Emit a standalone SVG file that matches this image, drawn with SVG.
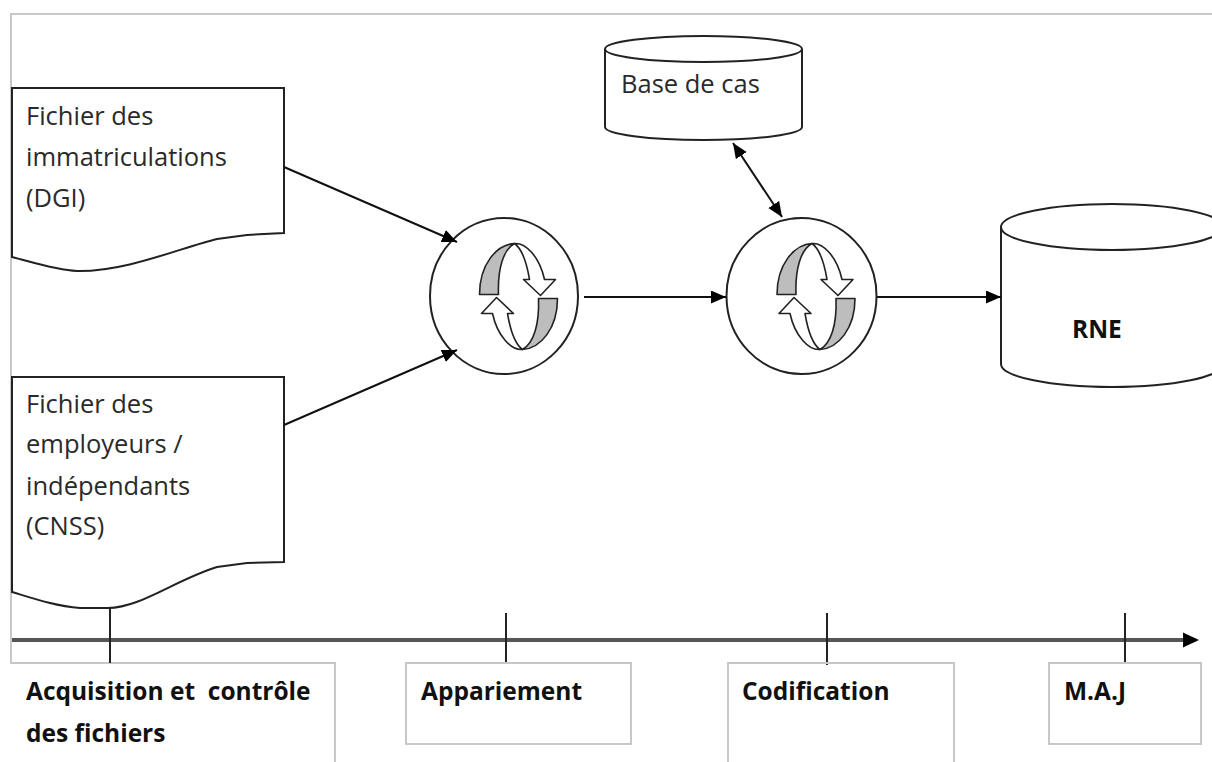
<svg xmlns="http://www.w3.org/2000/svg" xmlns:xlink="http://www.w3.org/1999/xlink" width="1212" height="762" viewBox="0 0 1212 762">
<style>
.frame{fill:none;stroke:#c8c8c8;stroke-width:2}
.shape{fill:#fff;stroke:#222;stroke-width:2}
.conn{fill:none;stroke:#111;stroke-width:2}
.tick{stroke:#222;stroke-width:2}
.txt{font-family:"Open Sans","Noto Sans",sans-serif;font-size:25.5px;fill:#2a2a2a}
.btxt{font-family:"Open Sans","Noto Sans",sans-serif;font-size:24.5px;font-weight:bold;fill:#111}
.ico{stroke:#222;stroke-width:1.6;stroke-linejoin:round}
</style>
<defs>
<marker id="arr" markerUnits="userSpaceOnUse" markerWidth="16" markerHeight="14" refX="15" refY="6.5" orient="auto-start-reverse" viewBox="0 0 16 14">
<path d="M0,0 L15,6.5 L0,13 Z" fill="#000"/>
</marker>
<g id="cyc">
<g>
<path class="ico" fill="#bdbdbd" d="M-4,-53 C-22,-52 -39,-32 -39,-2 L-20,-2 C-21,-28 -15,-47 -4,-53 Z"/>
<path class="ico" fill="#fff" d="M-4,-53 C7,-54 21,-40 26,-17 L37,-17 L22,-1 L5,-17 L11,-17 C8,-35 3,-48 -4,-53 Z"/>
</g>
<g transform="rotate(180)">
<path class="ico" fill="#bdbdbd" d="M-4,-53 C-22,-52 -39,-32 -39,-2 L-20,-2 C-21,-28 -15,-47 -4,-53 Z"/>
<path class="ico" fill="#fff" d="M-4,-53 C7,-54 21,-40 26,-17 L37,-17 L22,-1 L5,-17 L11,-17 C8,-35 3,-48 -4,-53 Z"/>
</g>
</g>
</defs>
<rect width="1212" height="762" fill="#fff"/>

<g id="frame">
<path class="frame" d="M1212,14 L11,14 L11,663 L335,663 L335,762"/>
</g>

<g id="doc-dgi">
<path class="shape" d="M12,88 L284,88 L284,233 L247,235 L217,239 C180,248 125,272 77,271 C55,270 32,262 12,257 Z"/>
<text class="txt" x="26" y="125">Fichier des</text>
<text class="txt" x="26" y="166">immatriculations</text>
<text class="txt" x="26" y="207">(DGI)</text>
</g>

<g id="doc-cnss">
<path class="shape" d="M12,377 L284,377 L284,562 L247,563 L217,567 C175,580 140,608 108,608 L80,608 C55,606 32,598 12,592 Z"/>
<text class="txt" x="26" y="413">Fichier des</text>
<text class="txt" x="26" y="453">employeurs /</text>
<text class="txt" x="26" y="495">indépendants</text>
<text class="txt" x="26" y="535">(CNSS)</text>
</g>

<g id="proc-appariement">
<ellipse class="shape" cx="504" cy="296" rx="74" ry="78"/>
<use xlink:href="#cyc" href="#cyc" transform="translate(518.5,296.5)"/>
</g>

<g id="proc-codification">
<ellipse class="shape" cx="801.5" cy="296" rx="75" ry="78"/>
<use xlink:href="#cyc" href="#cyc" transform="translate(816,296.5)"/>
</g>

<g id="db-base-cas">
<path class="shape" d="M605,49 L605,127 A98.5,13 0 0 0 802,127 L802,49"/>
<ellipse class="shape" cx="703.5" cy="49" rx="98.5" ry="13"/>
<text class="txt" x="621" y="93">Base de cas</text>
</g>

<g id="db-rne">
<path class="shape" d="M1001,227 L1001,364 A111,23 0 0 0 1223,364 L1223,227"/>
<ellipse class="shape" cx="1112" cy="227" rx="111" ry="23"/>
<text class="btxt" x="1072" y="338">RNE</text>
</g>

<g id="connectors">
<line class="conn" x1="284" y1="167" x2="457" y2="242" marker-end="url(#arr)"/>
<line class="conn" x1="284" y1="425" x2="457" y2="350" marker-end="url(#arr)"/>
<line class="conn" x1="584" y1="297" x2="726" y2="297" marker-end="url(#arr)"/>
<line class="conn" x1="877" y1="297" x2="1001" y2="297" marker-end="url(#arr)"/>
<line class="conn" x1="733" y1="143" x2="782" y2="217" marker-start="url(#arr)" marker-end="url(#arr)"/>
</g>

<g id="timeline">
<line x1="12" y1="640" x2="1186" y2="640" stroke="#555" stroke-width="4"/>
<path d="M1183,632.5 L1199,640 L1183,647.5 Z" fill="#000"/>
<line class="tick" x1="110" y1="608" x2="110" y2="663"/>
<line class="tick" x1="506" y1="613" x2="506" y2="664"/>
<line class="tick" x1="827" y1="613" x2="827" y2="665"/>
<line class="tick" x1="1125" y1="613" x2="1125" y2="663"/>
</g>

<g id="step-acquisition">
<text class="btxt" x="26" y="700" xml:space="preserve">Acquisition et  contrôle</text>
<text class="btxt" x="26" y="742">des fichiers</text>
</g>

<g id="step-appariement">
<rect class="frame" x="406" y="663" width="225" height="81"/>
<text class="btxt" x="421" y="700">Appariement</text>
</g>

<g id="step-codification">
<path class="frame" d="M728,762 L728,663 L954,663 L954,762"/>
<text class="btxt" x="742" y="700">Codification</text>
</g>

<g id="step-maj">
<rect class="frame" x="1049" y="663" width="152" height="81"/>
<text class="btxt" x="1064" y="700">M.A.J</text>
</g>
</svg>
